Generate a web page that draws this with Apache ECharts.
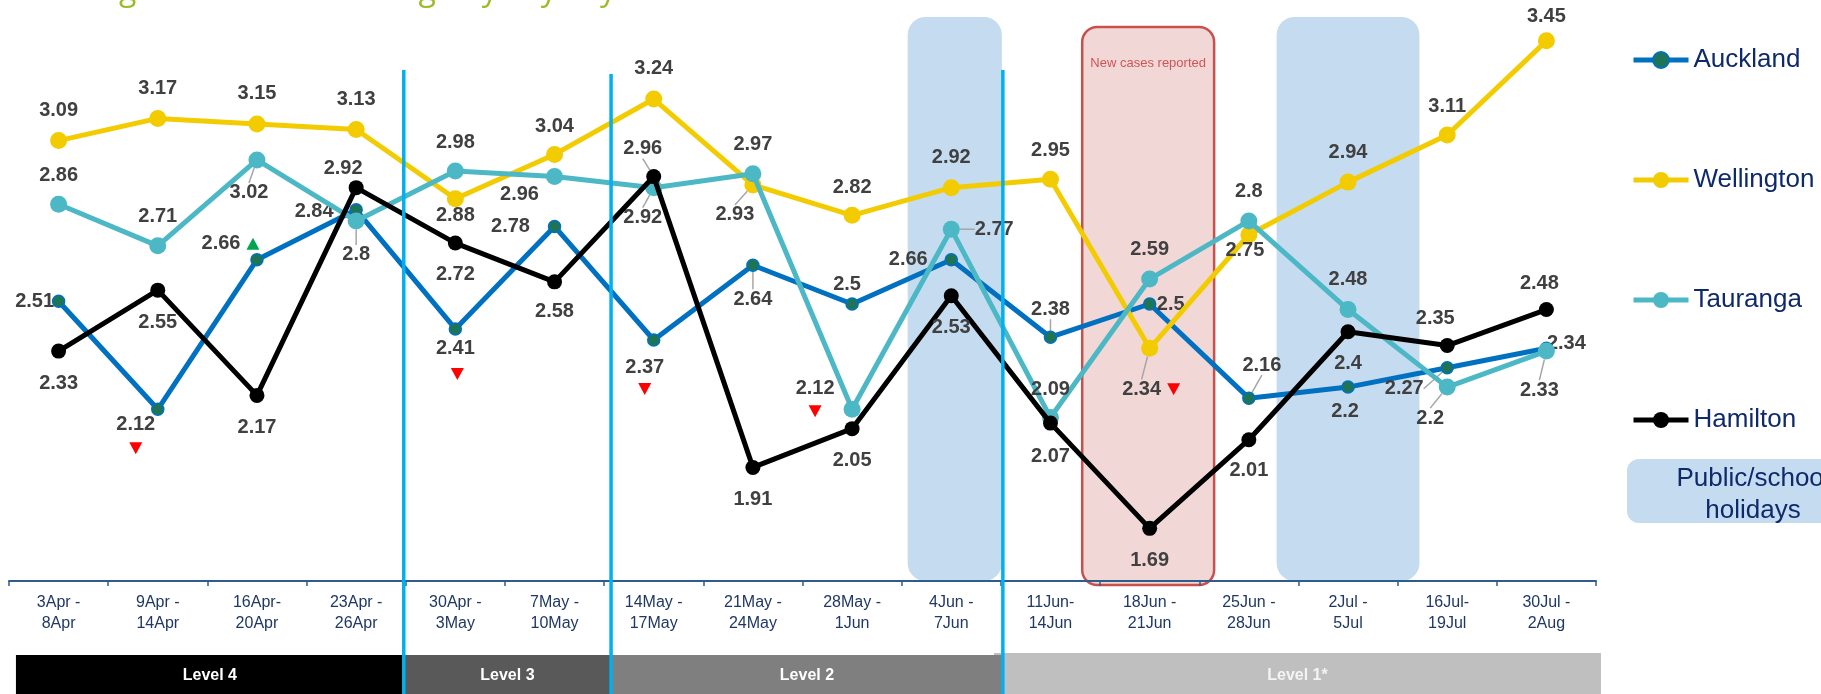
<!DOCTYPE html>
<html>
<head>
<meta charset="utf-8">
<script src="https://cdn.jsdelivr.net/npm/echarts@6/dist/echarts.min.js"></script>
<style>
  html, body { margin: 0; padding: 0; background: #ffffff; overflow: hidden; }
  #chart { width: 1821px; height: 694px; }
</style>
</head>
<body>
<div id="chart"></div>
<script>
// Weekly periods shown on the x axis
const categories = [
  '3Apr -\n8Apr', '9Apr -\n14Apr', '16Apr-\n20Apr', '23Apr -\n26Apr',
  '30Apr -\n3May', '7May -\n10May', '14May -\n17May', '21May -\n24May',
  '28May -\n1Jun', '4Jun -\n7Jun', '11Jun-\n14Jun', '18Jun -\n21Jun',
  '25Jun -\n28Jun', '2Jul -\n5Jul', '16Jul-\n19Jul', '30Jul -\n2Aug'
];

// Values per city
const auckland   = [2.51, 2.12, 2.66, 2.84, 2.41, 2.78, 2.37, 2.64, 2.5, 2.66, 2.38, 2.5, 2.16, 2.2, 2.27, 2.34];
const wellington = [3.09, 3.17, 3.15, 3.13, 2.88, 3.04, 3.24, 2.93, 2.82, 2.92, 2.95, 2.34, 2.75, 2.94, 3.11, 3.45];
const tauranga   = [2.86, 2.71, 3.02, 2.8, 2.98, 2.96, 2.92, 2.97, 2.12, 2.77, 2.09, 2.59, 2.8, 2.48, 2.2, 2.33];
const hamilton   = [2.33, 2.55, 2.17, 2.92, 2.72, 2.58, 2.96, 1.91, 2.05, 2.53, 2.07, 1.69, 2.01, 2.4, 2.35, 2.48];

// Alert level periods
const levelNames = ['Level 4', 'Level 3', 'Level 2', 'Level 1*'];

// Weeks with public/school holidays, and the week new cases were reported
const holidayWeeks = [9, 13];
const newCasesWeek = 11;
const newCasesText = 'New cases reported';

// Week-on-week change flags: [category index, 'up' | 'down']
const aucklandFlags   = [[1, 'down'], [2, 'up'], [4, 'down'], [6, 'down']];
const wellingtonFlags = [[11, 'down']];
const taurangaFlags   = [[8, 'down']];
const hamiltonFlags   = [];

const titleText = 'Average number of waiting days by city across the main centres';

// ---- label placement (pixel offsets of each value label from its point) ----
const aucklandLabelPos = [[-24,0],[-22,15],[-36,-16],[-42,2],[0,20],[-44,0],[-9,27],[0,34],[-5,-20],[-43,0],[0,-28],[21,0],[13,-33],[-3,24],[-43,21],[20,-5]];
const wellingtonLabelPos = [[0,-30],[0,-30],[0,-30],[0,-30],[0,17],[0,-28],[0,-31],[-18,30],[0,-28],[0,-30],[0,-29],[-8,41],[-4,16],[0,-30],[0,-29],[0,-24]];
const taurangaLabelPos = [[0,-29],[0,-29],[-8,33],[0,34],[0,-29],[-35,18],[-11,30],[0,-29],[-37,-21],[43,0],[0,-28],[0,-30],[0,-29],[0,-30],[-17,31],[-7,39]];
const hamiltonLabelPos = [[0,32],[0,32],[0,32],[-13,-19],[0,31],[0,30],[-11,-28],[0,32],[0,32],[0,32],[0,33],[0,32],[0,31],[0,32],[-12,-27],[-7,-26]];
// labels drawn with a leader line back to their point
const aucklandLeaders = [7, 10, 12, 14];
const wellingtonLeaders = [7, 11];
const taurangaLeaders = [2, 3, 6, 9, 14, 15];
const hamiltonLeaders = [6];
// flag marker offsets from the point
const aucklandFlagPos = [[-22,39],[-4,-16],[2,45],[-9,49]];
const wellingtonFlagPos = [[24,41]];
const taurangaFlagPos = [[-37,2]];

const FONT = "'Liberation Sans', Arial, sans-serif";
const NARROW = "'Liberation Sans Narrow', 'Arial Narrow', 'Liberation Sans', Arial, sans-serif";
const NAVY = '#0F2A6B';
const HOLIDAY_FILL = '#C5DBF0';
const DOWN_PATH = 'path://M0,0 L14,0 L7,12 Z';
const UP_PATH = 'path://M7,0 L14,12 L0,12 Z';

function citySeries(name, values, opts) {
  return {
    name: name,
    type: 'line',
    z: opts.z,
    data: values.map((v, i) => ({
      value: v,
      labelLine: { show: opts.leaders.indexOf(i) >= 0 }
    })),
    symbol: 'circle',
    symbolSize: opts.symbolSize,
    lineStyle: { color: opts.color, width: 5 },
    itemStyle: { color: opts.fill, borderColor: opts.border, borderWidth: opts.borderWidth },
    label: {
      show: true,
      color: '#404040',
      fontSize: 20,
      fontWeight: 'bold',
      fontFamily: FONT
    },
    labelLine: { show: false, lineStyle: { color: '#A6A6A6', width: 1.5 } },
    labelLayout: function (p) {
      const off = opts.labelPos[p.dataIndex];
      return {
        x: p.rect.x + p.rect.width / 2 + off[0],
        y: p.rect.y + p.rect.height / 2 + off[1],
        align: 'center',
        verticalAlign: 'middle'
      };
    },
    markPoint: {
      silent: true,
      label: { show: false },
      data: opts.flags.map((f, k) => ({
        coord: [f[0], values[f[0]]],
        symbol: f[1] === 'up' ? UP_PATH : DOWN_PATH,
        symbolSize: [13, 12],
        symbolOffset: opts.flagPos[k],
        itemStyle: { color: f[1] === 'up' ? '#00A550' : '#FF0000' }
      }))
    },
    emphasis: { disabled: true }
  };
}

const chart = echarts.init(document.getElementById('chart'));

chart.setOption({
  animation: false,
  backgroundColor: '#ffffff',
  grid: { left: 9, right: 225, top: 27, bottom: 113 },
  xAxis: {
    type: 'category',
    data: categories,
    boundaryGap: true,
    z: 3,
    axisLine: { lineStyle: { color: '#2F5C8A', width: 2 } },
    axisTick: { show: true, length: 5, lineStyle: { color: '#2F5C8A', width: 1.5 } },
    axisLabel: { interval: 0, color: '#1F3864', fontSize: 16, lineHeight: 21, margin: 11, fontFamily: NARROW },
    splitLine: { show: false }
  },
  yAxis: { type: 'value', min: 1.5, max: 3.5, show: false },
  legend: {
    orient: 'vertical',
    left: 1626,
    top: 42,
    itemGap: 94,
    itemWidth: 55,
    itemHeight: 20,
    selectedMode: false,
    lineStyle: { width: 5 },
    textStyle: { fontSize: 26, color: NAVY, fontFamily: FONT },
    data: ['Auckland', 'Wellington', 'Tauranga', 'Hamilton']
  },
  series: [
    citySeries('Auckland', auckland, {
      z: 2, color: '#0070C0', fill: '#1D7556', border: '#0070C0', borderWidth: 1.5, symbolSize: 12,
      labelPos: aucklandLabelPos, leaders: aucklandLeaders, flags: aucklandFlags, flagPos: aucklandFlagPos
    }),
    citySeries('Wellington', wellington, {
      z: 3, color: '#F2CC00', fill: '#F2CC00', border: '#F2CC00', borderWidth: 0, symbolSize: 17,
      labelPos: wellingtonLabelPos, leaders: wellingtonLeaders, flags: wellingtonFlags, flagPos: wellingtonFlagPos
    }),
    citySeries('Tauranga', tauranga, {
      z: 4, color: '#4DB8C5', fill: '#4DB8C5', border: '#4DB8C5', borderWidth: 0, symbolSize: 17,
      labelPos: taurangaLabelPos, leaders: taurangaLeaders, flags: taurangaFlags, flagPos: taurangaFlagPos
    }),
    citySeries('Hamilton', hamilton, {
      z: 5, color: '#000000', fill: '#000000', border: '#000000', borderWidth: 0, symbolSize: 15,
      labelPos: hamiltonLabelPos, leaders: hamiltonLeaders, flags: hamiltonFlags, flagPos: []
    })
  ]
});

// ---- annotations placed through the axes ----
const c0 = chart.convertToPixel({ xAxisIndex: 0 }, 0);
const band = chart.convertToPixel({ xAxisIndex: 0 }, 1) - c0;
const leftEdge = c0 - band / 2;
const xAt = u => leftEdge + u * band;               // u in category units from the left edge
const axisY = chart.convertToPixel({ yAxisIndex: 0 }, 1.5);
const H = 694;

const graphics = [];

// title (runs off the top edge)
graphics.push({
  type: 'text', x: 34, y: 7, z: 20,
  style: { text: titleText, fill: '#9BBB29', font: '32px "Open Sans", sans-serif', verticalAlign: 'bottom' }
});

// holiday columns
const holidaySpan = [[0.06, 1.01], [-0.22, 1.22]];
holidayWeeks.forEach((w, k) => {
  const x0 = xAt(w + holidaySpan[k][0]);
  const x1 = xAt(w + holidaySpan[k][1]);
  graphics.push({
    type: 'rect', z: -1,
    shape: { x: x0, y: 17, width: x1 - x0, height: axisY - 17, r: 18 },
    style: { fill: HOLIDAY_FILL }
  });
});

// new cases column
{
  const x0 = xAt(newCasesWeek - 0.18);
  const x1 = xAt(newCasesWeek + 1.15);
  graphics.push({
    type: 'rect', z: -1,
    shape: { x: x0, y: 27, width: x1 - x0, height: axisY + 4 - 27, r: 15 },
    style: { fill: '#F2D7D7', stroke: '#C8504D', lineWidth: 2.5 }
  });
  graphics.push({
    type: 'text', z: -1, x: (x0 + x1) / 2, y: 63,
    style: { text: newCasesText, fill: '#D05555', font: '13px ' + FONT, align: 'center', verticalAlign: 'middle' }
  });
}

// alert level bars along the bottom (Level 1* sits underneath its neighbour)
const levelColors = ['#000000', '#595959', '#7F7F7F', '#BFBFBF'];
const levelFrom = [0.07, 3.98, 6.07, 9.93];
const levelTo = [3.98, 6.07, 10.02, 16.05];
levelNames.forEach((name, k) => {
  const x0 = xAt(levelFrom[k]);
  const x1 = xAt(levelTo[k]);
  const top = k === 3 ? 653 : 655;
  graphics.push({
    type: 'rect', z: k === 3 ? 5 : 6,
    shape: { x: x0, y: top, width: x1 - x0, height: H - top },
    style: { fill: levelColors[k] }
  });
  graphics.push({
    type: 'text', z: 7, x: (x0 + x1) / 2, y: 676,
    style: { text: name, fill: k === 3 ? '#F4F4F4' : '#FFFFFF', font: 'bold 16px ' + FONT, align: 'center', verticalAlign: 'middle' }
  });
});

// level change dividers
const dividerAt = [3.98, 6.07, 10.02];
const dividerTop = [70, 74, 70];
dividerAt.forEach((u, k) => {
  const x = xAt(u);
  graphics.push({
    type: 'line', z: 10,
    shape: { x1: x, y1: dividerTop[k], x2: x, y2: H },
    style: { stroke: '#00B0F0', lineWidth: 3.5 }
  });
});

// holiday key
graphics.push({
  type: 'rect', z: 1,
  shape: { x: 1627, y: 459, width: 260, height: 64, r: 12 },
  style: { fill: HOLIDAY_FILL }
});
graphics.push({
  type: 'text', z: 2, x: 1753, y: 495,
  style: { text: 'Public/school\nholidays', fill: NAVY, font: '26px ' + FONT, align: 'center', verticalAlign: 'middle', lineHeight: 32 }
});

chart.setOption({ graphic: graphics });
</script>
</body>
</html>
